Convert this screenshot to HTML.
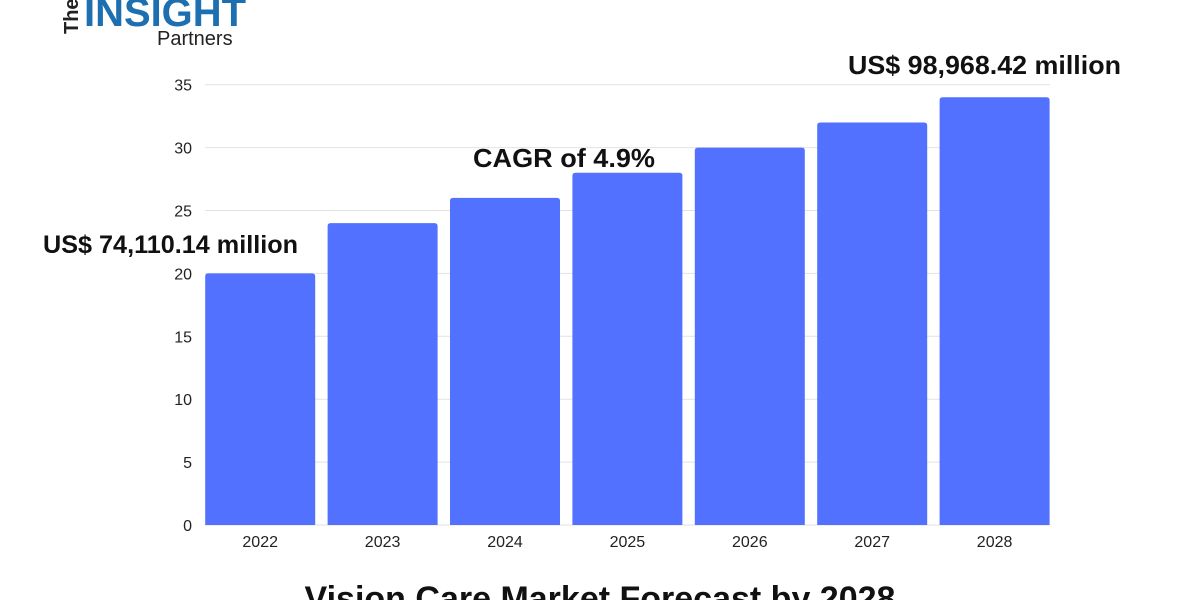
<!DOCTYPE html>
<html><head><meta charset="utf-8"><style>
body{margin:0;background:#fff;width:1200px;height:600px;overflow:hidden;font-family:"Liberation Sans",sans-serif}
</style></head><body>
<svg width="1200" height="600" xmlns="http://www.w3.org/2000/svg">
<g>
<text x="78" y="34" font-size="20" font-weight="bold" fill="#222" transform="rotate(-90 78 34)">The</text>
<text x="84" y="26" font-size="40" font-weight="bold" fill="#1e6fb0" textLength="162" lengthAdjust="spacingAndGlyphs">INSIGHT</text>
<text x="157" y="45" font-size="20" fill="#222">Partners</text>
</g>
<g id="grid"></g><g id="bars"></g><g id="labels"></g>
<text x="43" y="253" font-size="25" font-weight="bold" fill="#111" textLength="255" lengthAdjust="spacingAndGlyphs">US$ 74,110.14 million</text>
<text x="473" y="167" font-size="26" font-weight="bold" fill="#111" textLength="182" lengthAdjust="spacingAndGlyphs">CAGR of 4.9%</text>
<text x="848" y="74" font-size="26" font-weight="bold" fill="#111" textLength="273" lengthAdjust="spacingAndGlyphs">US$ 98,968.42 million</text>
<text x="600" y="610" font-size="34" font-weight="bold" fill="#111" text-anchor="middle">Vision Care Market Forecast by 2028</text>
</svg>
<script>
const categories=["2022","2023","2024","2025","2026","2027","2028"];
const values=[20,24,26,28,30,32,34];
const ticks=[0,5,10,15,20,25,30,35];
const NS="http://www.w3.org/2000/svg";
const y=v=>525-v*12.58;
const x0=199,band=122.4,bw=110;
const xb=i=>x0+i*band+(band-bw)/2;
function mk(t,a,p,txt){const e=document.createElementNS(NS,t);for(const k in a)e.setAttribute(k,a[k]);if(txt!=null)e.textContent=txt;document.getElementById(p).appendChild(e);return e;}
ticks.forEach(t=>{
 const l=mk('line',{x1:205,x2:1050,y1:y(t),y2:y(t),stroke:'#e2e2e2','stroke-width':1},'grid');
 
 
 const tx=mk('text',{x:192,y:y(t)+6,'font-size':16,fill:'#222','text-anchor':'end'},'labels',String(t));
 
 
});
categories.forEach((c,i)=>{
 const r=mk('path',{d:`M${xb(i)},525 V${y(values[i])+3} Q${xb(i)},${y(values[i])} ${xb(i)+3},${y(values[i])} H${xb(i)+bw-3} Q${xb(i)+bw},${y(values[i])} ${xb(i)+bw},${y(values[i])+3} V525 Z`,fill:'#5271ff'},'bars');
 
 
 const tx=mk('text',{x:xb(i)+bw/2,y:547,'font-size':16,fill:'#222','text-anchor':'middle'},'labels',c);
 
 
});
</script>
</body></html>
